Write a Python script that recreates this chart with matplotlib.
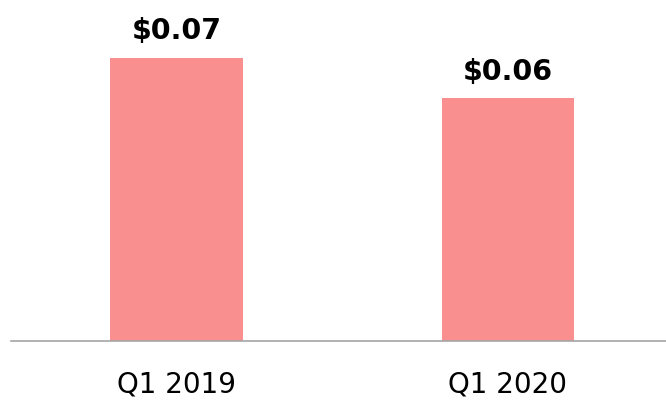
import matplotlib
matplotlib.use("Agg")
import matplotlib.pyplot as plt

categories = ["Q1 2019", "Q1 2020"]
values = [0.07, 0.06]
labels = ["$0.07", "$0.06"]

fig = plt.figure(figsize=(6.66, 4.01), dpi=100)
ax = fig.add_axes([11/666, 60/401, 655/666, 341/401])
x = list(range(len(categories)))
ax.bar(x, values, width=0.40, color="#F98F8F")
ax.set_xlim(-0.499, 1.477)
ax.set_ylim(0, 0.0843)
for xi, v, lab in zip(x, values, labels):
    ax.annotate(lab, (xi, v), xytext=(0, 13.5), textcoords="offset points",
                ha="center", va="baseline", fontsize=20.5, fontweight="bold")
ax.set_xticks(x)
ax.set_xticklabels(categories, fontsize=20)
ax.tick_params(axis="x", length=0, pad=21)
ax.set_yticks([])
for s in ["top", "right", "left"]:
    ax.spines[s].set_visible(False)
ax.spines["bottom"].set_color("#A6A6A6")
ax.spines["bottom"].set_linewidth(1.2)
fig.savefig("out.png", dpi=100)
